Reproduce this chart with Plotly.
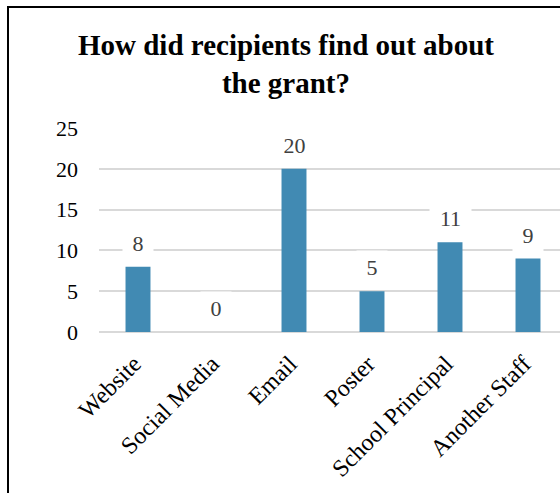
import plotly.graph_objects as go

categories = ["Website", "Social Media", "Email", "Poster", "School Principal", "Another Staff"]
values = [8, 0, 20, 5, 11, 9]
y_ticks = [0, 5, 10, 15, 20, 25]
title_text = "How did recipients find out about<br>the grant?"

W, H = 560, 493
L, R, T, B = 99, 0, 128, 161
plot_w = W - L - R
plot_h = H - T - B
cat_px = 78.0

SERIF = "Liberation Serif, Times New Roman, serif"
BAR = "#418ab3"
GRID = "#d9d9d9"

fig = go.Figure()
fig.add_trace(go.Bar(
    x=categories, y=values,
    marker=dict(color=BAR, line=dict(width=0)),
    width=0.32,
    hoverinfo="x+y",
))

annotations = []
for c, v in zip(categories, values):
    s = str(v)
    annotations.append(dict(
        x=c, y=v, xref="x", yref="y",
        text=s, showarrow=False,
        yanchor="bottom", yshift=6,
        font=dict(family=SERIF, size=22, color="#404040"),
        bgcolor="white", borderpad=4, width=11 * len(s) + 11,
    ))

fig.update_layout(
    width=W, height=H,
    margin=dict(l=L, r=R, t=T, b=B, pad=0),
    paper_bgcolor="white", plot_bgcolor="white",
    showlegend=False,
    title=dict(
        text=title_text,
        x=286 / W, xref="container", xanchor="center",
        y=1 - 55 / H, yref="container", yanchor="middle",
        font=dict(family=SERIF, size=29, color="black", weight="bold"),
    ),
    annotations=annotations,
    shapes=[dict(
        type="rect", xref="paper", yref="paper",
        x0=(8 - L) / plot_w, x1=(620 - L) / plot_w,
        y0=(H - B - 540) / plot_h, y1=(H - B - 7) / plot_h,
        line=dict(color="black", width=2), fillcolor="rgba(0,0,0,0)",
        layer="above",
    )],
    xaxis=dict(
        range=[-0.5, -0.5 + plot_w / cat_px],
        tickangle=-45,
        tickfont=dict(family=SERIF, size=24, color="black"),
        showgrid=False, showline=False, zeroline=False, ticks="",
        ticklabelstandoff=12, ticklabelshift=-4,
        fixedrange=True,
    ),
    yaxis=dict(
        range=[0, 25], tickvals=y_ticks,
        tickfont=dict(family=SERIF, size=22, color="black"),
        showgrid=True, gridcolor=GRID, gridwidth=1.5,
        zeroline=True, zerolinecolor=GRID, zerolinewidth=2,
        showline=False, ticks="", ticklabelstandoff=20,
        fixedrange=True,
    ),
)

fig.write_html("out.html", config={"displayModeBar": False})
